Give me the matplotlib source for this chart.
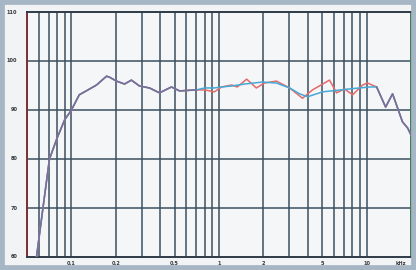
import numpy as np
import matplotlib
matplotlib.use("Agg")
from matplotlib import pyplot as plt
from matplotlib.patches import Rectangle

# frequency response, Hz / dB
freq_red = [58, 64, 71, 80, 90, 100, 113, 126, 148, 173, 181, 202, 229, 255, 289, 338,
            395, 476, 540, 703, 800, 930, 1040, 1220, 1330, 1540, 1790, 2030, 2450,
            3010, 3680, 4300, 5610, 6260, 7090, 8040, 9400, 10160, 11700, 13460,
            15000, 17500, 19000, 20000]
db_red = [60.0, 69.8, 80.0, 84.3, 88.0, 90.0, 93.1, 93.9, 95.1, 96.9, 96.7, 95.9, 95.3,
          96.1, 94.9, 94.5, 93.5, 94.7, 93.9, 94.1, 94.1, 93.7, 94.7, 95.1, 94.7, 96.3,
          94.5, 95.5, 95.9, 94.5, 92.4, 94.1, 96.1, 93.5, 94.3, 93.1, 95.1, 95.5, 94.7,
          90.6, 93.3, 87.6, 86.3, 84.9]

freq_blue = [58, 64, 71, 80, 90, 100, 113, 126, 148, 173, 181, 202, 229, 255, 289, 338,
             395, 476, 540, 703, 800, 930, 1040, 1220, 1490, 1970, 2450, 3010, 3520,
             3980, 5030, 7670, 10470, 11700, 13460, 15000, 17500, 19000, 20000]
db_blue = [60.0, 69.8, 80.0, 84.3, 88.0, 90.0, 93.1, 93.9, 95.1, 96.9, 96.7, 95.9, 95.3,
           96.1, 94.9, 94.5, 93.5, 94.7, 93.9, 94.1, 94.5, 94.5, 94.7, 94.9, 95.3, 95.7,
           95.5, 94.5, 93.3, 92.7, 93.7, 94.3, 94.7, 94.7, 90.6, 93.3, 87.6, 86.3, 84.9]

x_labels = ["0.1", "0.2", "0.5", "1", "2", "5", "10"]
x_label_pos = [100, 200, 500, 1000, 2000, 5000, 10000]
y_ticks = [60, 70, 80, 90, 100, 110]

fig = plt.figure(figsize=(4.16, 2.70), dpi=100, facecolor="#f1f3f5")
ax = fig.add_axes([27 / 416, 1 - 257 / 270, 384 / 416, 245 / 270])
ax.set_facecolor("#f4f6f8")
ax.set_xscale("log")
ax.set_xlim(50, 20000)
ax.set_ylim(60, 110)

grid_x = [60, 70, 80, 90, 100, 200, 300, 400, 500, 600, 700, 800, 900,
          1000, 2000, 3000, 4000, 5000, 6000, 7000, 8000, 9000, 10000]
for gx in grid_x:
    ax.axvline(gx, color="#3c4f60", lw=1.1, zorder=1)
for gy in y_ticks[1:-1]:
    ax.axhline(gy, color="#3c4f60", lw=1.1, zorder=1)

ax.plot(freq_red, db_red, color="#e46a6a", lw=1.1, zorder=3)
ax.plot(freq_blue, db_blue, color="#45a9d6", lw=1.1, zorder=4)
# where the two curves coincide they read as one purple line
fb = np.array(freq_blue)
shared = np.array([f in freq_red and db_red[freq_red.index(f)] == d
                   for f, d in zip(freq_blue, db_blue)])
db_shared = np.where(shared, db_blue, np.nan)
ax.plot(fb, db_shared, color="#7c6c96", lw=1.1, zorder=5)

ax.xaxis.set_major_locator(matplotlib.ticker.NullLocator())
ax.xaxis.set_minor_locator(matplotlib.ticker.NullLocator())
ax.set_yticks([])
for lab, pos in zip(x_labels, x_label_pos):
    ax.text(pos, 58.6, lab, ha="center", va="center", fontsize=3.6,
            fontweight="bold", color="#333840")
ax.text(17000, 58.6, "kHz", ha="center", va="center", fontsize=3.6,
        fontweight="bold", color="#333840")
for yv in y_ticks:
    ax.text(0.043 * 1000, yv, str(yv), ha="right", va="center", fontsize=3.6,
            fontweight="bold", color="#333840")

ax.spines["left"].set_color("#7a2c34")
ax.spines["left"].set_linewidth(1.4)
ax.spines["right"].set_color("#3f7a55")
ax.spines["right"].set_linewidth(1.4)
ax.spines["top"].set_color("#2e3a46")
ax.spines["top"].set_linewidth(1.4)
ax.spines["bottom"].set_color("#2e3a46")
ax.spines["bottom"].set_linewidth(1.4)

# outer blue-grey frame
fig.patches.append(Rectangle((0, 0), 1, 1, transform=fig.transFigure,
                             fill=False, edgecolor="#a7b6c4", lw=7))

fig.savefig("out.png", dpi=100, facecolor=fig.get_facecolor())
